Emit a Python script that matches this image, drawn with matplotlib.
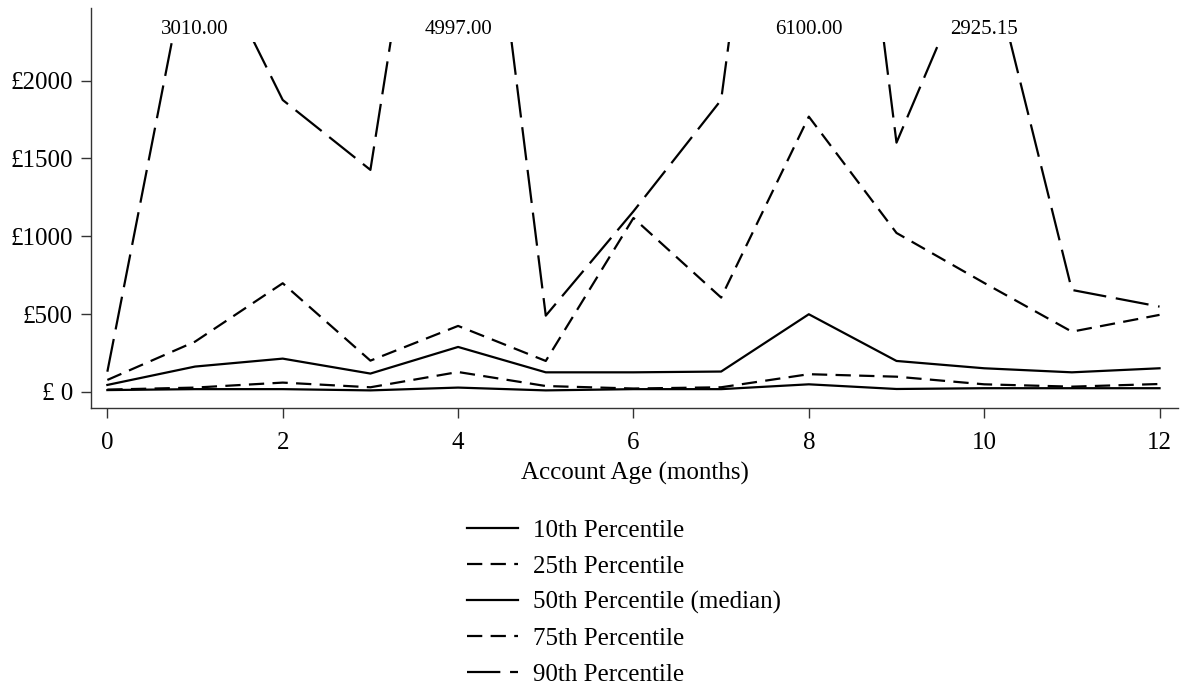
import matplotlib
matplotlib.use("Agg")
import matplotlib.pyplot as plt
from matplotlib.patches import Rectangle
import numpy as np

plt.rcParams['font.family'] = ['Liberation Serif', 'DejaVu Serif']
plt.rcParams['lines.scale_dashes'] = False

# account age in months
months = [0, 1, 2, 3, 4, 5, 6, 7, 8, 9, 10, 11, 12]

p10 = [12, 18, 18, 10, 28, 10, 18, 18, 49, 19, 24, 24, 24]
p25 = [15, 28, 60, 30, 128, 38, 22, 30, 114, 98, 49, 34, 51]
p50 = [45, 163, 214, 118, 289, 126, 126, 131, 499, 199, 152, 126, 152]
p75 = [77, 323, 698, 201, 424, 199, 1117, 606, 1768, 1021, 700, 387, 495]
p90 = [130, 3010.00, 1875, 1426, 4997.00, 490, 1160, 1875, 6100.00, 1601, 2925.15, 655, 548]

labels = ['10th Percentile', '25th Percentile', '50th Percentile (median)',
          '75th Percentile', '90th Percentile']
yticks = [0, 500, 1000, 1500, 2000]
yticklabels = ['£ 0', '£500', '£1000', '£1500', '£2000']

cap = 2250  # lines are cut off here, values above are written as text

fig = plt.figure(figsize=(11.84, 6.88), dpi=100)
ax = fig.add_axes([0.0769, 0.407, 0.918, 0.581])

styles = [
    dict(linestyle='-'),
    dict(dashes=(11, 6)),
    dict(linestyle='-'),
    dict(dashes=(11, 6)),
    dict(dashes=(24, 7)),
]
clip = Rectangle((-5, -1000), 30, cap + 1000, transform=ax.transData)
for ys, lab, st in zip([p10, p25, p50, p75, p90], labels, styles):
    ln, = ax.plot(months, ys, color='black', lw=1.6, label=lab, **st)
    ln.set_clip_path(clip)

for x, v in zip(months, p90):
    if v > cap:
        ax.text(x, 2328, f"{v:.2f}", ha='center', va='center', fontsize=15)

ax.set_xlim(-0.186, 12.21)
ax.set_ylim(-103, 2464)
ax.set_xticks([0, 2, 4, 6, 8, 10, 12])
ax.set_yticks(yticks)
ax.set_yticklabels(yticklabels)
ax.tick_params(axis='both', labelsize=18, direction='out', length=7,
               width=1, color='#333333')
ax.tick_params(axis='x', pad=10)
ax.tick_params(axis='y', pad=6)
ax.set_xlabel('Account Age (months)', fontsize=18, labelpad=6)

for s in ['top', 'right']:
    ax.spines[s].set_visible(False)
for s in ['left', 'bottom']:
    ax.spines[s].set_color('#333333')
    ax.spines[s].set_linewidth(1)

fig.legend(loc='upper center', bbox_to_anchor=(0.527, 1 - 497 / 688),
           frameon=False, fontsize=18, handlelength=2.05, handletextpad=0.6,
           labelspacing=0.53)

fig.savefig('out.png', dpi=100)
